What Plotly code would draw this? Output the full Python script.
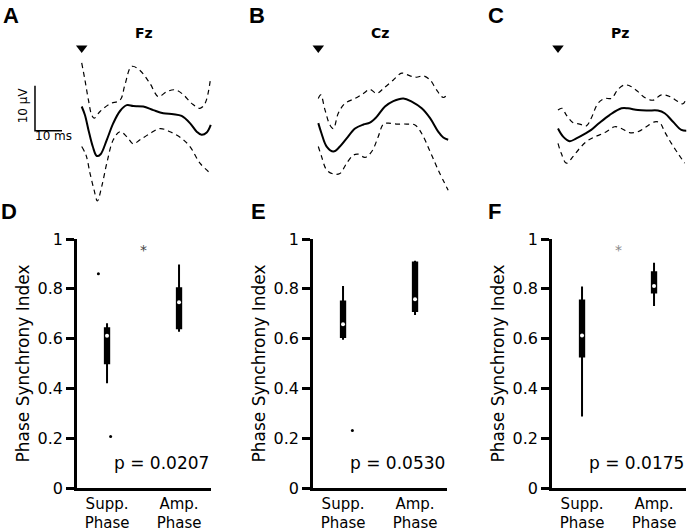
import plotly.graph_objects as go

W, H = 688, 532

# ---------------- DATA ----------------
# Top row: evoked potentials (time in ms, voltage in µV)
fz_mean_t = [0, 1.2, 2.5, 4.1, 5.6, 7.0, 9.3, 11.7, 14.2, 16.7, 19.1, 22.8, 26.5, 30.2, 34.0, 37.0, 40.1, 42.6, 44.4, 46.3, 47.8]
fz_mean_v = [3.0, 1.1, -2.2, -5.9, -8.0, -7.6, -4.4, -0.7, 2.0, 3.3, 3.1, 3.0, 2.2, 1.5, 1.3, 0.9, -0.7, -2.6, -3.3, -2.8, -1.1]
fz_up_t = [0, 1.2, 2.5, 3.7, 4.6, 6.8, 10.5, 14.2, 16.0, 18.5, 21.6, 25.3, 28.4, 31.5, 34.6, 37.7, 40.7, 43.8, 45.7, 47.8]
fz_up_v = [12.7, 8.9, 4.4, 1.1, 0.4, 1.9, 3.6, 4.4, 7.8, 11.9, 11.0, 8.1, 5.2, 6.3, 6.7, 5.6, 3.7, 2.6, 3.7, 9.6]
fz_lo_t = [0, 1.6, 3.1, 4.6, 5.8, 7.4, 9.3, 11.7, 14.2, 16.7, 19.1, 21.6, 25.3, 29.0, 32.7, 37.0, 40.1, 43.8, 47.8]
fz_lo_v = [-5.9, -7.8, -11.9, -15.6, -18.0, -14.8, -9.6, -4.4, -2.6, -3.7, -5.3, -4.4, -3.0, -1.9, -2.6, -4.1, -5.9, -9.6, -11.9]

cz_mean_t = [0, 1.2, 3.1, 5.6, 8.0, 10.5, 13.6, 16.7, 19.1, 21.6, 24.7, 27.8, 31.5, 34.6, 38.3, 41.4, 44.4, 46.3, 48.1]
cz_mean_v = [-0.7, -3.0, -5.9, -7.0, -5.9, -4.1, -1.9, -1.0, -0.6, 0.7, 3.0, 4.2, 4.8, 4.1, 2.6, 0.4, -2.6, -3.9, -4.4]
cz_up_t = [0, 0.9, 2.5, 4.3, 5.6, 7.4, 9.9, 13.6, 16.7, 19.1, 21.6, 24.1, 27.8, 30.9, 34.0, 36.4, 38.9, 41.4, 43.8, 46.3, 48.1]
cz_up_v = [4.8, 5.6, 2.2, -1.1, -1.9, 1.5, 3.7, 4.8, 5.9, 6.8, 5.9, 7.0, 8.9, 10.4, 9.8, 9.5, 9.8, 8.9, 6.7, 5.0, 5.9]
cz_lo_t = [0, 1.2, 3.1, 5.6, 8.0, 10.5, 13.0, 14.8, 17.3, 19.8, 22.2, 24.1, 25.9, 29.0, 32.7, 35.8, 38.3, 41.4, 44.4, 48.1]
cz_lo_v = [-5.9, -8.1, -11.1, -12.0, -11.9, -9.6, -7.8, -7.6, -8.3, -7.0, -3.7, -0.9, -0.7, -0.9, -0.9, -1.1, -3.0, -7.0, -11.1, -15.6]

pz_mean_t = [0, 1.9, 4.3, 6.8, 9.9, 12.3, 15.4, 19.1, 23.5, 25.9, 29.6, 33.3, 37.0, 39.5, 42.6, 45.7, 47.5]
pz_mean_v = [-1.9, -3.7, -4.7, -4.1, -3.1, -2.2, -0.6, 1.1, 2.6, 2.6, 2.2, 2.1, 2.1, 1.5, -0.4, -2.2, -2.4]
pz_up_t = [0, 1.5, 3.1, 5.6, 8.0, 10.5, 12.3, 14.8, 17.3, 19.8, 22.2, 24.7, 27.2, 29.6, 32.1, 35.2, 38.3, 41.4, 44.4, 46.3, 47.5]
pz_up_v = [2.2, 2.6, 1.1, -0.6, -0.9, -1.3, 0.4, 3.7, 4.8, 4.8, 6.8, 7.8, 7.4, 6.3, 5.0, 4.4, 5.6, 5.2, 4.1, 3.6, 4.8]
pz_lo_t = [0, 1.2, 3.1, 5.6, 8.0, 10.5, 13.0, 15.4, 17.9, 21.0, 23.5, 26.5, 29.6, 32.7, 35.8, 37.7, 39.5, 42.0, 44.4, 46.9]
pz_lo_v = [-5.2, -7.4, -9.6, -8.1, -6.3, -4.8, -3.9, -3.3, -2.6, -1.5, -1.9, -2.8, -2.6, -1.5, -0.4, -0.6, -2.6, -5.2, -7.4, -9.6]

electrodes = ["Fz", "Cz", "Pz"]
scale_ms = 10
scale_uv = 10

# Bottom row: phase synchrony index box summaries [Supp. Phase, Amp. Phase]
categories = ["Supp.<br>Phase", "Amp.<br>Phase"]
panel_titles = ["Fz - LFP", "Cz - LFP", "Pz - LFP"]
p_values = ["p = 0.0207", "p = 0.0530", "p = 0.0175"]
significant = [True, False, True]

fz_lowf = [0.421, 0.628]; fz_q1 = [0.501, 0.642]; fz_med = [0.611, 0.746]; fz_q3 = [0.642, 0.802]; fz_upf = [0.662, 0.898]
cz_lowf = [0.595, 0.695]; cz_q1 = [0.606, 0.711]; cz_med = [0.658, 0.758]; cz_q3 = [0.749, 0.906]; cz_upf = [0.811, 0.913]
pz_lowf = [0.287, 0.731]; pz_q1 = [0.528, 0.785]; pz_med = [0.612, 0.811]; pz_q3 = [0.753, 0.866]; pz_upf = [0.809, 0.905]

fz_out_x = [-0.12, 0.05]; fz_out_y = [0.86, 0.207]
cz_out_x = [0.13]; cz_out_y = [0.231]
pz_out_x = []; pz_out_y = []

y_ticks = [0, 0.2, 0.4, 0.6, 0.8, 1]

# ---------------- FIGURE ----------------
fig = go.Figure()

def fx(p):
    return p / W

def fy(p):
    return 1 - p / H

FONT = "DejaVu Sans, Verdana, sans-serif"
BOLD_ARIAL = "Liberation Sans, Arial, sans-serif"

# --- top row axes ---
PX_PER_MS = 2.7
PX_PER_UV = 4.5
Y0_PX = 120  # pixel row of 0 µV
top_y_dom = (0, 210)
top_panels = [
    dict(x0=0, x1=229, t0=81.7, tr=[(fz_mean_t, fz_mean_v), (fz_up_t, fz_up_v), (fz_lo_t, fz_lo_v)]),
    dict(x0=230, x1=457, t0=318.3, tr=[(cz_mean_t, cz_mean_v), (cz_up_t, cz_up_v), (cz_lo_t, cz_lo_v)]),
    dict(x0=458, x1=688, t0=558.0, tr=[(pz_mean_t, pz_mean_v), (pz_up_t, pz_up_v), (pz_lo_t, pz_lo_v)]),
]

for i, p in enumerate(top_panels):
    k = i + 1
    xa = "x" if k == 1 else f"x{k}"
    ya = "y" if k == 1 else f"y{k}"
    xr = [(p["x0"] - p["t0"]) / PX_PER_MS, (p["x1"] - p["t0"]) / PX_PER_MS]
    yr = [(Y0_PX - top_y_dom[1]) / PX_PER_UV, (Y0_PX - top_y_dom[0]) / PX_PER_UV]
    ax = dict(visible=False, showgrid=False, zeroline=False, fixedrange=True, automargin=False)
    fig.layout[f"xaxis{'' if k == 1 else k}"] = dict(ax, domain=[fx(p["x0"]), fx(p["x1"])], range=xr, anchor=ya)
    fig.layout[f"yaxis{'' if k == 1 else k}"] = dict(ax, domain=[fy(top_y_dom[1]), fy(top_y_dom[0])], range=yr, anchor=xa)
    (mt, mv), (ut, uv), (lt, lv) = p["tr"]
    for tt, vv in [(ut, uv), (lt, lv)]:
        fig.add_trace(go.Scatter(x=tt, y=vv, mode="lines", line=dict(color="black", width=1.2, dash="5px,4px", shape="spline", smoothing=1.0),
                                 xaxis=xa, yaxis=ya, showlegend=False, hoverinfo="skip", cliponaxis=False))
    fig.add_trace(go.Scatter(x=mt, y=mv, mode="lines", line=dict(color="black", width=2, shape="spline", smoothing=1.0),
                             xaxis=xa, yaxis=ya, showlegend=False, hoverinfo="skip", cliponaxis=False))
    # stimulus marker
    fig.add_trace(go.Scatter(x=[0], y=[(Y0_PX - 48) / PX_PER_UV], mode="markers",
                             marker=dict(symbol="triangle-down", size=10, color="black"),
                             xaxis=xa, yaxis=ya, showlegend=False, hoverinfo="skip", cliponaxis=False))
    fig.add_annotation(x=23, y=(Y0_PX - 33) / PX_PER_UV, xref=xa, yref=ya, text=f"<b>{electrodes[i]}</b>",
                       showarrow=False, font=dict(family=FONT, size=14, color="black"))

# scale bar (panel A)
sb_t = -17.3
sb_v = -2.4
fig.add_trace(go.Scatter(x=[sb_t, sb_t, sb_t + scale_ms], y=[sb_v + scale_uv, sb_v, sb_v], mode="lines",
                         line=dict(color="black", width=1.5), xaxis="x", yaxis="y", showlegend=False, hoverinfo="skip"))
fig.add_annotation(x=-21.7, y=3.3, xref="x", yref="y", text=f"{scale_uv} µV", textangle=-90, showarrow=False,
                   font=dict(family=FONT, size=12, color="black"))
fig.add_annotation(x=-10.4, y=-3.6, xref="x", yref="y", text=f"{scale_ms} ms", showarrow=False,
                   font=dict(family=FONT, size=12, color="black"))

# --- bottom row axes ---
bot_panels = [
    dict(x0=77, x1=211, stats=(fz_lowf, fz_q1, fz_med, fz_q3, fz_upf), out=(fz_out_x, fz_out_y)),
    dict(x0=313, x1=447, stats=(cz_lowf, cz_q1, cz_med, cz_q3, cz_upf), out=(cz_out_x, cz_out_y)),
    dict(x0=552, x1=686, stats=(pz_lowf, pz_q1, pz_med, pz_q3, pz_upf), out=(pz_out_x, pz_out_y)),
]
bot_y_dom = (239, 488)
XR = [-0.417, 1.444]
positions = [0, 1]

for i, p in enumerate(bot_panels):
    k = i + 4
    xa, ya = f"x{k}", f"y{k}"
    fig.layout[f"xaxis{k}"] = dict(domain=[fx(p["x0"]), fx(p["x1"])], range=XR, anchor=ya, showline=True, linecolor="black",
                                   linewidth=2.5, ticks="", tickvals=positions, ticktext=categories, showgrid=False,
                                   zeroline=False, tickfont=dict(family=FONT, size=15, color="black"), fixedrange=True,
                                   automargin=False)
    fig.layout[f"yaxis{k}"] = dict(domain=[fy(bot_y_dom[1]), fy(bot_y_dom[0])], range=[0, 1], anchor=xa, showline=True,
                                   linecolor="black", linewidth=2.5, ticks="outside", ticklen=8, tickwidth=2.5, tickcolor="black",
                                   tickvals=y_ticks, showgrid=False, zeroline=False,
                                   tickfont=dict(family=FONT, size=16, color="black"),
                                   title=dict(text="Phase Synchrony Index", font=dict(family=FONT, size=17, color="black"), standoff=4),
                                   fixedrange=True, automargin=False)
    lowf, q1, med, q3, upf = p["stats"]
    fig.add_trace(go.Box(x=positions, lowerfence=lowf, q1=q1, median=med, q3=q3, upperfence=upf,
                         fillcolor="black", line=dict(color="black", width=2), whiskerwidth=0, width=0.06,
                         boxpoints=False, xaxis=xa, yaxis=ya, showlegend=False, hoverinfo="skip"))
    fig.add_trace(go.Scatter(x=positions, y=med, mode="markers", marker=dict(color="white", size=4),
                             xaxis=xa, yaxis=ya, showlegend=False, hoverinfo="skip"))
    ox, oy = p["out"]
    if ox:
        fig.add_trace(go.Scatter(x=[positions[0] + d for d in ox], y=oy, mode="markers",
                                 marker=dict(color="black", size=3), xaxis=xa, yaxis=ya, showlegend=False, hoverinfo="skip"))
    fig.add_annotation(x=0.5, y=1.052, xref=xa, yref=ya, text=f"<b>{panel_titles[i]}</b>", showarrow=False,
                       font=dict(family=FONT, size=14, color="black"))
    fig.add_annotation(x=XR[1], y=0.1, xref=xa, yref=ya, text=p_values[i], showarrow=False, xanchor="right",
                       font=dict(family=FONT, size=17, color="black"))
    if significant[i]:
        fig.add_annotation(x=0.5, y=0.955, xref=xa, yref=ya, text="*", showarrow=False,
                           font=dict(family=FONT, size=14, color="#444" if i == 0 else "#888"))

# panel letters
for letter, (lx, ly) in zip("ABCDEF", [(11, 15), (257, 15), (496, 15), (9, 211), (258, 211), (495, 211)]):
    fig.add_annotation(x=fx(lx), y=fy(ly), xref="paper", yref="paper", text=f"<b>{letter}</b>", showarrow=False,
                       xanchor="center", yanchor="middle",
                       font=dict(family=BOLD_ARIAL, size=22, color="black"))

fig.update_layout(width=W, height=H, margin=dict(l=0, r=0, t=0, b=0, autoexpand=False), paper_bgcolor="white",
                  plot_bgcolor="rgba(0,0,0,0)", showlegend=False)

fig.write_html("out.html", config={"displayModeBar": False},
               post_script="document.body.style.margin='0';document.body.style.overflow='hidden';")
